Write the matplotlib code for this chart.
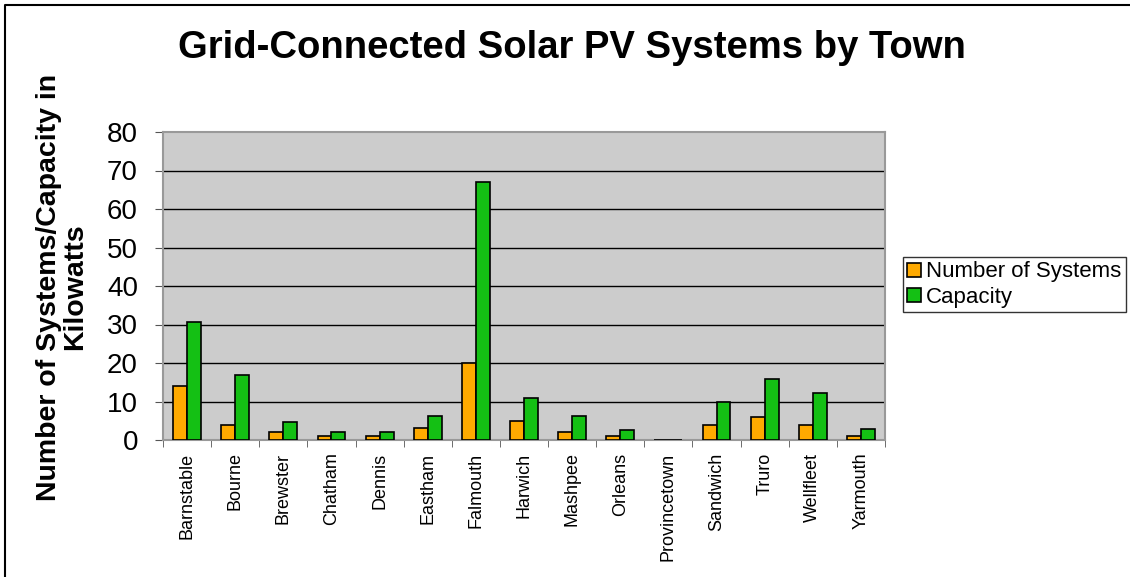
import matplotlib
matplotlib.use("Agg")
import matplotlib.pyplot as plt
from matplotlib.lines import Line2D
import numpy as np

towns = ["Barnstable", "Bourne", "Brewster", "Chatham", "Dennis", "Eastham",
         "Falmouth", "Harwich", "Mashpee", "Orleans", "Provincetown",
         "Sandwich", "Truro", "Wellfleet", "Yarmouth"]
num_systems = [14, 4, 2, 1, 1, 3, 20, 5, 2, 1, 0, 4, 6, 4, 1]
capacity = [30.7, 16.9, 4.8, 2.0, 2.1, 6.2, 66.9, 10.9, 6.2, 2.6, 0, 9.8, 15.8, 12.3, 2.9]
yticks = [0, 10, 20, 30, 40, 50, 60, 70, 80]

plt.rcParams["font.family"] = ["Liberation Sans", "DejaVu Sans"]

fig = plt.figure(figsize=(11.3, 5.77), dpi=100)
W, H = 1130, 577
ax = fig.add_axes([163 / W, 1 - 440 / H, (885 - 163) / W, (440 - 132) / H])

x = np.arange(len(towns))
bw = 0.29
ax.bar(x - bw / 2, num_systems, bw, color="#FFAA00", edgecolor="black",
       linewidth=1.2, label="Number of Systems", zorder=3)
ax.bar(x + bw / 2, capacity, bw, color="#14C014", edgecolor="black",
       linewidth=1.2, label="Capacity", zorder=3)

ax.set_facecolor("#CCCCCC")
ax.set_xlim(-0.5, len(towns) - 0.5)
ax.set_ylim(0, 80)
ax.set_yticks(yticks)
ax.set_yticklabels([str(v) for v in yticks], fontsize=20)
for v in yticks[1:-1]:
    ax.axhline(v, color="black", linewidth=1, zorder=1)
ax.set_xticks(np.arange(len(towns) + 1) - 0.5, minor=True)
ax.set_xticks(x)
ax.set_xticklabels(towns, rotation=90, fontsize=13)
ax.tick_params(axis="x", which="major", length=0, pad=9)
ax.tick_params(axis="x", which="minor", length=5, direction="out", color="#555555")
ax.tick_params(axis="y", length=6, direction="out", color="#555555", pad=12)
for s in ax.spines.values():
    s.set_color("#999999")
    s.set_linewidth(1.5)

fig.text(572 / W, 1 - 48 / H, "Grid-Connected Solar PV Systems by Town",
         ha="center", va="center", fontsize=27.5, fontweight="bold")
fig.text(62 / W, 1 - 287 / H, "Number of Systems/Capacity in\nKilowatts",
         ha="center", va="center", rotation=90, fontsize=20.5,
         fontweight="bold", linespacing=1.0)

leg = fig.legend(loc="upper left", bbox_to_anchor=(903 / W, 1 - 257 / H),
                 fontsize=16, frameon=True, fancybox=False, handlelength=0.6,
                 handleheight=0.6, handletextpad=0.25, borderpad=0.2,
                 labelspacing=0.2, borderaxespad=0)
leg.get_frame().set_edgecolor("black")
leg.get_frame().set_linewidth(1)

# outer chart border (top and left edges only visible)
fig.lines.append(Line2D([5 / W, 5 / W, 1], [0, 1 - 5 / H, 1 - 5 / H],
                        transform=fig.transFigure, color="black", linewidth=1.5))

fig.savefig("out.png", dpi=100)
